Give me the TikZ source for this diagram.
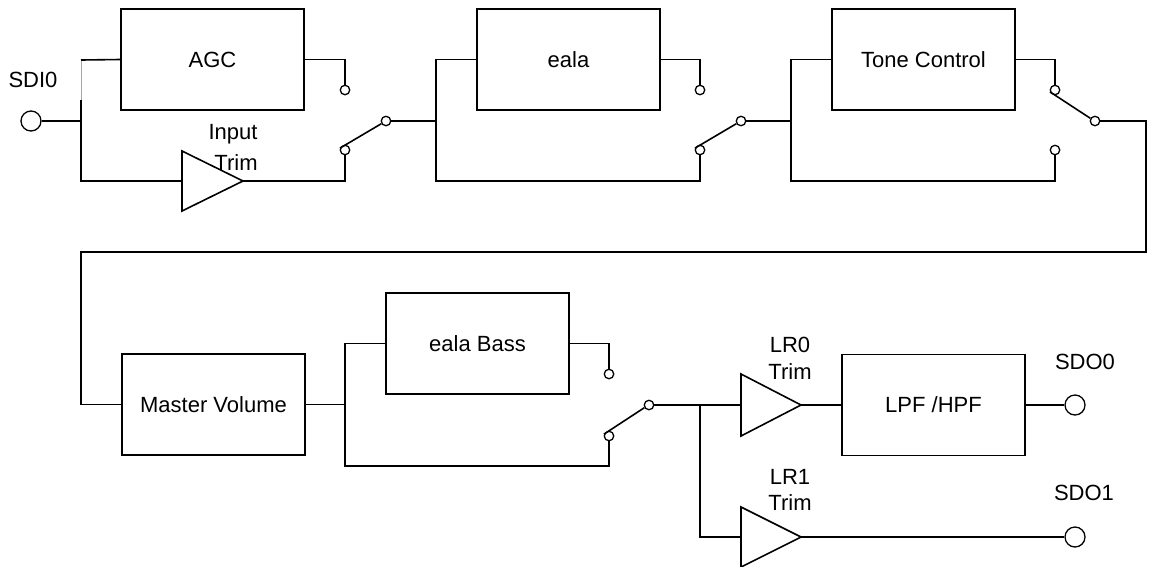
\documentclass[tikz,border=0pt]{standalone}
\usepackage{fontspec}
\setmainfont{Liberation Sans}
\begin{document}
\begin{tikzpicture}[x=1pt,y=-1pt,line width=1.6pt,line join=miter,
  lbl/.style={font=\fontsize{22}{26}\selectfont,inner sep=0pt},
  blk/.style={draw,rectangle,minimum width=183pt,minimum height=101pt,inner sep=0pt,font=\fontsize{22}{26}\selectfont},
  ct/.style={draw,circle,minimum size=9.5pt,inner sep=0pt,line width=1.3pt},
  port/.style={draw,circle,minimum size=20pt,inner sep=0pt,line width=1.3pt},
  amp/.style={draw,line join=miter}]
\useasboundingbox (0,0) rectangle (1150,566);

% ---------- top row ----------
\node[port] (sdi) at (31,121) {};
\node[lbl] (sdilbl) at (33,80) {SDI0};
\coordinate (j1) at (81,121);
\coordinate (j1u) at (81,60);
\coordinate (j1g) at (81,100);
\coordinate (j1d) at (81,181);
\node[blk] (agc) at (212.5,59.5) {AGC};
\coordinate (t1a) at (182,151);
\coordinate (t1b) at (182,211);
\coordinate (t1t) at (243,181);
\coordinate (t1i) at (182,181);
\draw[amp] (t1a) -- (t1t) -- (t1b) -- cycle;
\node[lbl] (t1l1) at (233,134) {Input};
\node[lbl] (t1l2) at (236,163) {Trim};
\node[ct] (u1) at (345,90) {};
\node[ct] (l1) at (345,150) {};
\node[ct] (p1) at (386,121) {};

\draw (sdi) -- (j1) -- (j1d) -- (t1i);
\draw (j1) -- (j1g);
\draw[gray!70,line width=1pt] (j1g) -- (j1u);
\draw (j1u) -- (agc.west);
\draw (agc.east) -| (u1);
\draw (t1t) -| (l1);
\draw (l1.160) -- (p1.210);

\coordinate (j2) at (436,121);
\node[blk] (eala) at (568.5,59.5) {eala};
\node[ct] (u2) at (700,90) {};
\node[ct] (l2) at (700,150) {};
\node[ct] (p2) at (741,121) {};
\draw (p1) -- (j2);
\draw (j2) |- (eala.west);
\draw (j2) -- (436,181) -| (l2);
\draw (eala.east) -| (u2);
\draw (l2.160) -- (p2.210);

\coordinate (j3) at (791,121);
\node[blk] (tone) at (923.5,59.5) {Tone Control};
\node[ct] (u3) at (1055,90) {};
\node[ct] (l3) at (1055,150) {};
\node[ct] (p3) at (1095,121) {};
\draw (p2) -- (j3);
\draw (j3) |- (tone.west);
\draw (j3) -- (791,181) -| (l3);
\draw (tone.east) -| (u3);
\draw (u3.200) -- (p3.150);

% ---------- return path ----------
\coordinate (r1) at (1146,121);
\coordinate (r2) at (1146,252);
\coordinate (r3) at (81,252);
\node[blk] (mv) at (213.5,404.5) {Master Volume};
\draw (p3) -- (r1) -- (r2) -- (r3) |- (mv.west);

% ---------- bottom row ----------
\coordinate (j4) at (345,404.5);
\node[blk] (eb) at (477.5,343.5) {eala Bass};
\node[ct] (u4) at (609,374) {};
\node[ct] (l4) at (609,436) {};
\node[ct] (p4) at (649,405) {};
\draw (mv.east) -- (j4);
\draw (j4) |- (eb.west);
\draw (j4) -- (345,466) -| (l4);
\draw (eb.east) -| (u4);
\draw (l4.160) -- (p4.210);

\coordinate (j5) at (700,405);
\coordinate (t2a) at (741,374);
\coordinate (t2b) at (741,436);
\coordinate (t2i) at (741,405);
\coordinate (t2t) at (801,405);
\draw[amp] (t2a) -- (t2t) -- (t2b) -- cycle;
\node[lbl] (t2l1) at (790,345) {LR0};
\node[lbl] (t2l2) at (790,372) {Trim};
\node[blk] (lpf) at (933.5,405) {LPF /HPF};
\node[port] (sdo0) at (1075,405) {};
\node[lbl] (sdo0l) at (1085,362) {SDO0};
\draw (p4) -- (j5) -- (t2i);
\draw (t2t) -- (lpf.west);
\draw (lpf.east) -- (sdo0);

\coordinate (t3a) at (741,507);
\coordinate (t3b) at (741,567);
\coordinate (t3i) at (741,537);
\coordinate (t3t) at (801,537);
\draw[amp] (t3a) -- (t3t) -- (t3b) -- cycle;
\node[lbl] (t3l1) at (790,477) {LR1};
\node[lbl] (t3l2) at (790,503) {Trim};
\node[port] (sdo1) at (1075,537) {};
\node[lbl] (sdo1l) at (1084,493) {SDO1};
\draw (j5) |- (t3i);
\draw (t3t) -- (sdo1);
\end{tikzpicture}
\end{document}
